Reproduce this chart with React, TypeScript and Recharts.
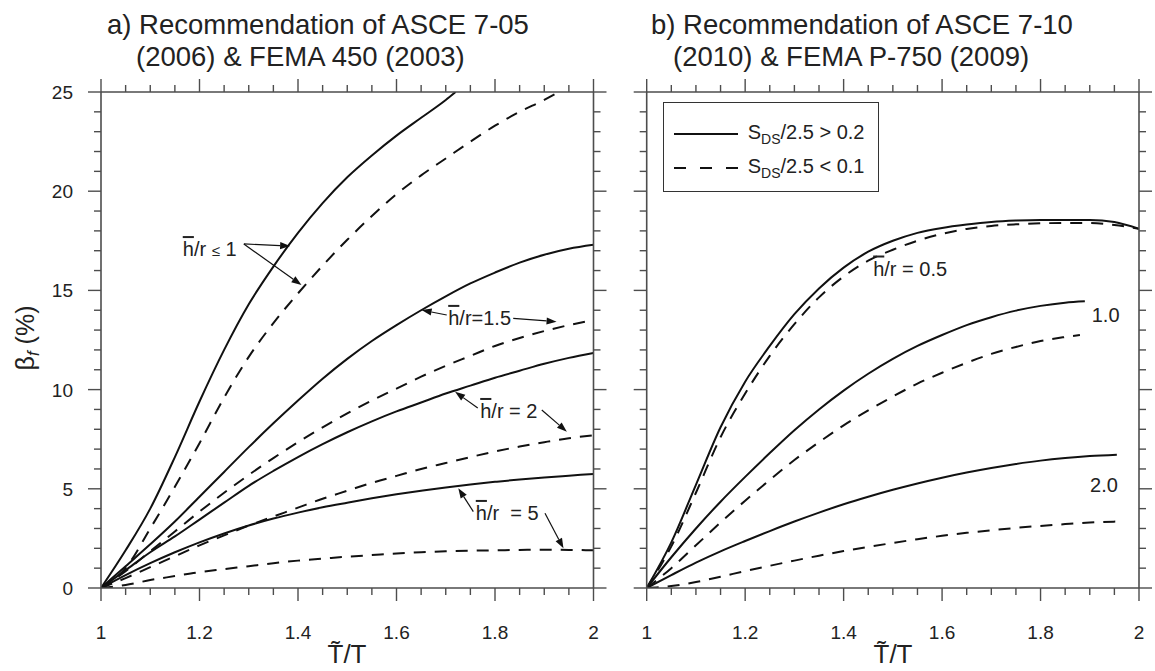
import React from 'react';
import { LineChart, Line, XAxis, YAxis, ReferenceLine, ReferenceDot, Legend } from 'recharts';

const FONT = '"Liberation Sans", Arial, Helvetica, sans-serif';
const INK = '#111';
const AXIS = '#4d4d4d';
const TEXT = '#222';
const DASH = '12 9';

// axis ticks
const X_TICKS = [1, 1.05, 1.1, 1.15, 1.2, 1.25, 1.3, 1.35, 1.4, 1.45, 1.5, 1.55, 1.6, 1.65, 1.7, 1.75, 1.8, 1.85, 1.9, 1.95, 2];
const X_LABELLED = [1, 1.2, 1.4, 1.6, 1.8, 2];
const Y_TICKS = [0, 1, 2, 3, 4, 5, 6, 7, 8, 9, 10, 11, 12, 13, 14, 15, 16, 17, 18, 19, 20, 21, 22, 23, 24, 25];
const Y_LABELLED = [0, 5, 10, 15, 20, 25];

// T~/T sample points
const T = [1, 1.05, 1.1, 1.15, 1.2, 1.25, 1.3, 1.35, 1.4, 1.45, 1.5, 1.55, 1.6, 1.65, 1.7, 1.75, 1.8, 1.85, 1.9, 1.95, 2];

// a) ASCE 7-05 / FEMA 450
const A_LE1_SOLID_T = [1, 1.05, 1.1, 1.15, 1.2, 1.25, 1.3, 1.35, 1.4, 1.45, 1.5, 1.55, 1.6, 1.65, 1.7, 1.72];
const A_LE1_SOLID = [0, 1.9, 4.0, 6.6, 9.4, 12.0, 14.3, 16.2, 17.9, 19.4, 20.7, 21.8, 22.8, 23.7, 24.6, 25];
const A_LE1_DASH_T = [1, 1.05, 1.1, 1.15, 1.2, 1.25, 1.3, 1.35, 1.4, 1.45, 1.5, 1.55, 1.6, 1.65, 1.7, 1.75, 1.8, 1.85, 1.9, 1.93];
const A_LE1_DASH = [0, 1.0, 3.0, 5.1, 7.3, 9.6, 11.65, 13.35, 14.85, 16.25, 17.55, 18.75, 19.85, 20.8, 21.65, 22.5, 23.3, 24.0, 24.6, 25];
const A_15_SOLID = [0, 1.1, 2.2, 3.35, 4.6, 5.85, 7.1, 8.3, 9.45, 10.55, 11.55, 12.45, 13.25, 14.0, 14.7, 15.35, 15.9, 16.4, 16.8, 17.1, 17.3];
const A_15_DASH = [0, 0.85, 1.85, 2.85, 3.85, 4.8, 5.7, 6.55, 7.35, 8.1, 8.8, 9.45, 10.05, 10.65, 11.2, 11.7, 12.2, 12.6, 12.95, 13.25, 13.5];
const A_2_SOLID = [0, 0.9, 1.8, 2.6, 3.45, 4.3, 5.15, 5.9, 6.6, 7.25, 7.85, 8.4, 8.9, 9.35, 9.8, 10.2, 10.6, 10.95, 11.3, 11.6, 11.85];
const A_2_DASH = [0, 0.5, 1.05, 1.6, 2.15, 2.65, 3.15, 3.6, 4.05, 4.5, 4.9, 5.3, 5.65, 6.0, 6.3, 6.6, 6.88, 7.13, 7.35, 7.55, 7.7];
const A_5_SOLID = [0, 0.65, 1.25, 1.8, 2.3, 2.75, 3.15, 3.5, 3.8, 4.07, 4.3, 4.52, 4.72, 4.9, 5.07, 5.22, 5.35, 5.47, 5.57, 5.66, 5.75];
const A_5_DASH = [0, 0.15, 0.4, 0.6, 0.8, 0.95, 1.1, 1.25, 1.38, 1.48, 1.58, 1.66, 1.74, 1.8, 1.85, 1.88, 1.9, 1.92, 1.93, 1.92, 1.9];

// b) ASCE 7-10 / FEMA P-750
const B_05_SOLID = [0, 2.3, 5.2, 8.1, 10.4, 12.2, 13.8, 15.1, 16.15, 16.95, 17.5, 17.9, 18.15, 18.32, 18.45, 18.52, 18.55, 18.55, 18.55, 18.45, 18.1];
const B_05_DASH = [0, 2.1, 4.8, 7.6, 9.8, 11.7, 13.3, 14.65, 15.7, 16.5, 17.05, 17.5, 17.85, 18.1, 18.25, 18.33, 18.38, 18.4, 18.4, 18.3, 18.1];
const B_10_SOLID_T = [1, 1.05, 1.1, 1.15, 1.2, 1.25, 1.3, 1.35, 1.4, 1.45, 1.5, 1.55, 1.6, 1.65, 1.7, 1.75, 1.8, 1.85, 1.89];
const B_10_SOLID = [0, 1.55, 3.0, 4.35, 5.6, 6.8, 7.95, 9.0, 9.95, 10.8, 11.55, 12.2, 12.75, 13.25, 13.65, 13.98, 14.22, 14.38, 14.45];
const B_10_DASH_T = [1, 1.05, 1.1, 1.15, 1.2, 1.25, 1.3, 1.35, 1.4, 1.45, 1.5, 1.55, 1.6, 1.65, 1.7, 1.75, 1.8, 1.85, 1.88];
const B_10_DASH = [0, 1.0, 2.15, 3.3, 4.4, 5.45, 6.45, 7.35, 8.2, 8.95, 9.65, 10.3, 10.85, 11.35, 11.8, 12.15, 12.45, 12.65, 12.75];
const B_20_T = [1, 1.05, 1.1, 1.15, 1.2, 1.25, 1.3, 1.35, 1.4, 1.45, 1.5, 1.55, 1.6, 1.65, 1.7, 1.75, 1.8, 1.85, 1.9, 1.955];
const B_20_SOLID = [0, 0.65, 1.28, 1.85, 2.37, 2.87, 3.35, 3.8, 4.22, 4.6, 4.95, 5.27, 5.56, 5.82, 6.05, 6.25, 6.42, 6.55, 6.65, 6.72];
const B_20_DASH = [0, 0.1, 0.3, 0.57, 0.85, 1.12, 1.38, 1.63, 1.86, 2.07, 2.27, 2.46, 2.63, 2.78, 2.91, 3.03, 3.13, 3.22, 3.3, 3.35];

const TITLES_A = ['a) Recommendation of ASCE 7-05', '(2006) & FEMA 450 (2003)'];
const TITLES_B = ['b) Recommendation of ASCE 7-10', '(2010) & FEMA P-750 (2009)'];
const LEGEND_ITEMS = [
  { rel: '> 0.2', dashed: false },
  { rel: '< 0.1', dashed: true },
];

type Series = { t: number[]; v: number[]; dashed: boolean };
type Note = { x: number; y: number; text: string; bar?: boolean };
type Arrow = { from: [number, number]; to: [number, number] };

const SERIES_A: Series[] = [
  { t: A_LE1_SOLID_T, v: A_LE1_SOLID, dashed: false },
  { t: A_LE1_DASH_T, v: A_LE1_DASH, dashed: true },
  { t: T, v: A_15_SOLID, dashed: false },
  { t: T, v: A_15_DASH, dashed: true },
  { t: T, v: A_2_SOLID, dashed: false },
  { t: T, v: A_2_DASH, dashed: true },
  { t: T, v: A_5_SOLID, dashed: false },
  { t: T, v: A_5_DASH, dashed: true },
];

const SERIES_B: Series[] = [
  { t: T, v: B_05_SOLID, dashed: false },
  { t: T, v: B_05_DASH, dashed: true },
  { t: B_10_SOLID_T, v: B_10_SOLID, dashed: false },
  { t: B_10_DASH_T, v: B_10_DASH, dashed: true },
  { t: B_20_T, v: B_20_SOLID, dashed: false },
  { t: B_20_T, v: B_20_DASH, dashed: true },
];

// annotation anchors, in axis units
const NOTES_A: Note[] = [
  { x: 1.166, y: 16.73, text: '/r ≤ 1', bar: true },
  { x: 1.705, y: 13.26, text: '/r=1.5', bar: true },
  { x: 1.77, y: 8.57, text: '/r = 2', bar: true },
  { x: 1.761, y: 3.43, text: '/r  = 5', bar: true },
];
const ARROWS_A: Arrow[] = [
  { from: [1.29, 17.34], to: [1.384, 17.24] },
  { from: [1.29, 17.34], to: [1.407, 15.27] },
  { from: [1.702, 13.76], to: [1.651, 14.01] },
  { from: [1.837, 13.59], to: [1.925, 13.42] },
  { from: [1.765, 9.07], to: [1.719, 9.89] },
  { from: [1.895, 8.97], to: [1.946, 7.88] },
  { from: [1.756, 3.85], to: [1.7255, 5.03] },
  { from: [1.9015, 3.77], to: [1.939, 2.0] },
];
const NOTES_B: Note[] = [
  { x: 1.46, y: 15.75, text: '/r = 0.5', bar: true },
  { x: 1.904, y: 13.42, text: '1.0' },
  { x: 1.9005, y: 4.85, text: '2.0' },
];

const pts = (t: number[], v: number[]) => t.map((x, i) => ({ x, y: v[i] }));
const isIn = (list: number[], v: number) => list.some((m) => Math.abs(m - v) < 1e-6);

const makeTick = (side: 'bottom' | 'top' | 'left' | 'right', withLabel: boolean) => (p: any) => {
  const { x, y, payload } = p;
  const v = payload.value as number;
  const horiz = side === 'bottom' || side === 'top';
  const major = horiz ? isIn(X_LABELLED, v) : isIn(Y_LABELLED, v);
  const len = major ? 13 : 7;
  const c = { x1: x, y1: y, x2: x, y2: y };
  if (side === 'bottom') c.y2 = y + len;
  if (side === 'top') c.y2 = y - len;
  if (side === 'left') c.x2 = x - len;
  if (side === 'right') c.x2 = x + len;
  return (
    <g>
      <line {...c} stroke={AXIS} strokeWidth={1.4} />
      {withLabel && major && side === 'bottom' && (
        <text x={x} y={y + 51} textAnchor="middle" fontSize={19} fontFamily={FONT} fill={TEXT}>
          {String(v)}
        </text>
      )}
      {withLabel && major && side === 'left' && (
        <text x={x - 28} y={y + 7} textAnchor="end" fontSize={19} fontFamily={FONT} fill={TEXT}>
          {String(v)}
        </text>
      )}
    </g>
  );
};

const ArrowShape = (p: any) => {
  const { x1, y1, x2, y2 } = p;
  const ang = Math.atan2(y2 - y1, x2 - x1);
  const L = 10;
  const W = 3.6;
  const bx = x2 - L * Math.cos(ang);
  const by = y2 - L * Math.sin(ang);
  const px = -Math.sin(ang) * W;
  const py = Math.cos(ang) * W;
  return (
    <g>
      <line x1={x1} y1={y1} x2={bx} y2={by} stroke={INK} strokeWidth={1.2} />
      <polygon points={`${x2},${y2} ${bx + px},${by + py} ${bx - px},${by - py}`} fill={INK} />
    </g>
  );
};

const NoteText = ({ cx, cy, note }: { cx: number; cy: number; note: Note }) => {
  const parts = note.text.split('≤');
  return (
    <text x={cx} y={cy} fontSize={20} fontFamily={FONT} fill={TEXT}>
      {note.bar && <tspan style={{ textDecoration: 'overline' }}>h</tspan>}
      <tspan style={{ whiteSpace: 'pre' }}>{parts[0]}</tspan>
      {parts.length > 1 && <tspan fontSize={15}>≤</tspan>}
      {parts.length > 1 && <tspan>{parts[1]}</tspan>}
    </text>
  );
};

const LegendBox = () => (
  <div
    style={{
      boxSizing: 'border-box',
      width: 216,
      height: 90,
      border: '1.4px solid #333',
      background: '#fff',
      position: 'relative',
      fontFamily: FONT,
      fontSize: 20,
      color: TEXT,
    }}
  >
    {LEGEND_ITEMS.map((it, i) => (
      <div
        key={i}
        style={{ position: 'absolute', left: 10, top: 17 + i * 34, height: 28, display: 'flex', alignItems: 'center', lineHeight: 1 }}
      >
        <svg width={64} height={10}>
          <line x1={0} x2={64} y1={5} y2={5} stroke={INK} strokeWidth={2} strokeDasharray={it.dashed ? '12 14' : undefined} />
        </svg>
        <span style={{ marginLeft: 10, whiteSpace: 'pre' }}>
          S<sub style={{ fontSize: 14, verticalAlign: -5 }}>DS</sub>/2.5 {it.rel}
        </span>
      </div>
    ))}
  </div>
);

type PanelProps = {
  left: number;
  width: number;
  marginLeft: number;
  marginRight: number;
  series: Series[];
  notes: Note[];
  arrows: Arrow[];
  yLabels: boolean;
  legend?: boolean;
};

const axisLine = { stroke: AXIS, strokeWidth: 1.6 };

function Panel({ left, width, marginLeft, marginRight, series, notes, arrows, yLabels, legend }: PanelProps) {
  // every axis is 1px deep, margins put the plot frame where the figure has it
  return (
    <div style={{ position: 'absolute', left, top: 0 }}>
      <LineChart width={width} height={671} margin={{ top: 91, right: marginRight - 1, bottom: 82, left: marginLeft - 1 }}>
        <XAxis xAxisId="b" dataKey="x" type="number" domain={[1, 2]} ticks={X_TICKS} interval={0} height={1}
          tickSize={0} tickMargin={0} tickLine={false} axisLine={axisLine} tick={makeTick('bottom', true)} allowDataOverflow />
        <XAxis xAxisId="t" orientation="top" dataKey="x" type="number" domain={[1, 2]} ticks={X_TICKS} interval={0} height={1}
          tickSize={0} tickMargin={0} tickLine={false} axisLine={axisLine} tick={makeTick('top', false)} allowDataOverflow />
        <YAxis yAxisId="l" type="number" domain={[0, 25]} ticks={Y_TICKS} interval={0} width={1}
          tickSize={0} tickMargin={0} tickLine={false} axisLine={axisLine} tick={makeTick('left', yLabels)} allowDataOverflow />
        <YAxis yAxisId="r" orientation="right" type="number" domain={[0, 25]} ticks={Y_TICKS} interval={0} width={1}
          tickSize={0} tickMargin={0} tickLine={false} axisLine={axisLine} tick={makeTick('right', false)} allowDataOverflow />
        {series.map((s, i) => (
          <Line key={i} xAxisId="b" yAxisId="l" data={pts(s.t, s.v)} dataKey="y" type="monotone" stroke={INK}
            strokeWidth={2} strokeDasharray={s.dashed ? DASH : undefined} dot={false} activeDot={false}
            legendType="none" isAnimationActive={false} />
        ))}
        {arrows.map((a, i) => (
          <ReferenceLine key={'a' + i} xAxisId="b" yAxisId="l" ifOverflow="visible"
            segment={[{ x: a.from[0], y: a.from[1] }, { x: a.to[0], y: a.to[1] }]} shape={ArrowShape} />
        ))}
        {notes.map((n, i) => (
          <ReferenceDot key={'n' + i} xAxisId="b" yAxisId="l" x={n.x} y={n.y} r={0} ifOverflow="visible"
            shape={(p: any) => <NoteText cx={p.cx} cy={p.cy} note={n} />} />
        ))}
        {legend && (
          <Legend layout="vertical" align="center" verticalAlign="middle" content={() => <LegendBox />}
            wrapperStyle={{ left: 662.7 - left, top: 101.7, width: 216, height: 90 }} />
        )}
      </LineChart>
    </div>
  );
}

export default function App() {
  return (
    <div style={{ position: 'absolute', left: 0, top: 0, width: 1155, height: 671, background: '#fff' }}>
      <Panel left={0} width={620} marginLeft={101} marginRight={26.5} series={SERIES_A} notes={NOTES_A}
        arrows={ARROWS_A} yLabels />
      <Panel left={620} width={535} marginLeft={26.7} marginRight={16} series={SERIES_B} notes={NOTES_B}
        arrows={[]} yLabels={false} legend />
      <svg width={1155} height={671} style={{ position: 'absolute', left: 0, top: 0, pointerEvents: 'none' }}
        fontFamily={FONT} fill={TEXT}>
        <text x={107} y={34} fontSize={27.5}>{TITLES_A[0]}</text>
        <text x={136} y={66} fontSize={27.5}>{TITLES_A[1]}</text>
        <text x={651} y={34} fontSize={27.5}>{TITLES_B[0]}</text>
        <text x={673} y={66} fontSize={27.5}>{TITLES_B[1]}</text>
        <text x={347} y={663} fontSize={26} textAnchor="middle">T̃/T</text>
        <text x={893} y={663} fontSize={26} textAnchor="middle">T̃/T</text>
        <text transform="translate(34,338) rotate(-90)" fontSize={25} textAnchor="middle">
          β<tspan fontSize={17} fontStyle="italic" dy={5}>f</tspan>
          <tspan dy={-5}> (%)</tspan>
        </text>
      </svg>
    </div>
  );
}
